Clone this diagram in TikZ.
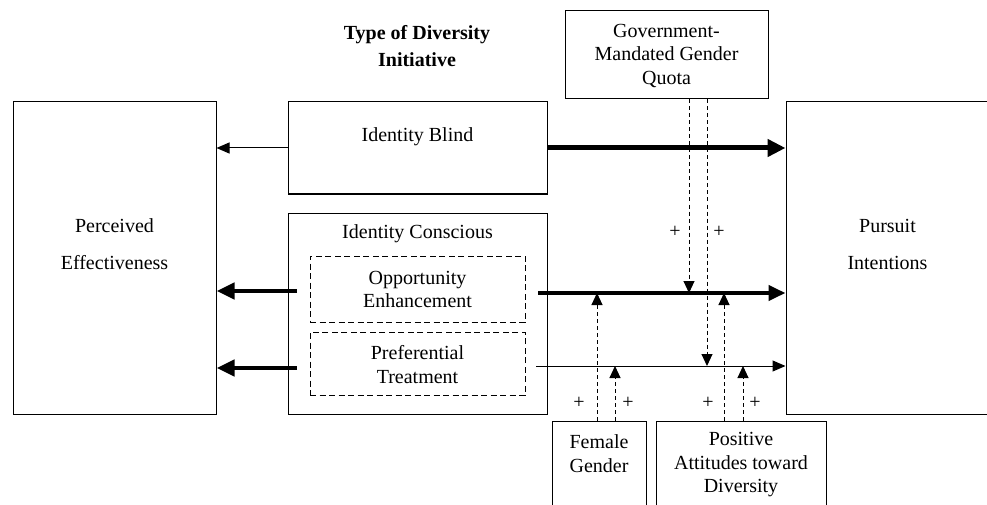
\documentclass[tikz,border=0pt]{standalone}
\usepackage{fontspec}
\setmainfont{Liberation Serif}
\usetikzlibrary{arrows.meta}
\begin{document}
\begin{tikzpicture}[x=1pt,y=-1pt,
 box/.style={draw, line width=1pt, rectangle, inner sep=0pt},
 dbox/.style={draw, line width=1pt, rectangle, inner sep=0pt, dash pattern=on 6pt off 3.5pt},
 txt/.style={font=\fontsize{20}{23.5}\selectfont, align=center, inner sep=0pt},
 bigtxt/.style={font=\fontsize{20}{37}\selectfont, align=center, inner sep=0pt},
 ttl/.style={font=\fontsize{20}{27}\selectfont\bfseries, align=center, inner sep=0pt},
 plus/.style={font=\fontsize{20}{24}\selectfont, inner sep=0pt},
 thinarr/.style={line width=1pt, -{Triangle[length=13pt,width=11pt]}},
 thickarr/.style={line width=4.5pt, -{Triangle[length=18pt,width=16pt]}},
 modarr/.style={line width=1pt, dash pattern=on 4pt off 3pt, -{Triangle[length=12pt,width=11pt]}},
]
\useasboundingbox (0,0) rectangle (987,505);
\clip (0,0) rectangle (987,505);

% title
\node[ttl] (title) at (417,46.5) {Type of Diversity\\Initiative};

% main boxes
\node[box, minimum width=203pt, minimum height=312pt] (pe) at (114.5,258) {};
\node[bigtxt] (petxt) at (114.5,244) {Perceived\\Effectiveness};

\node[box, minimum width=203pt, minimum height=312pt] (pi) at (887.5,258) {};
\node[bigtxt] (pitxt) at (887.5,244) {Pursuit\\Intentions};

\node[box, minimum width=259pt, minimum height=92pt] (ib) at (417.5,148) {};
\node[txt] (ibtxt) at (417.5,137) {Identity Blind};

\node[box, minimum width=259pt, minimum height=201pt] (ic) at (417.5,313.5) {};
\node[txt] (ictxt) at (417.5,234) {Identity Conscious};

\node[dbox, minimum width=215pt, minimum height=66pt] (oe) at (417.5,289) {};
\node[txt] (oetxt) at (417.5,289.5) {Opportunity\\Enhancement};

\node[dbox, minimum width=215pt, minimum height=63pt] (pt) at (417.5,363.5) {};
\node[txt] (pttxt) at (417.5,364.5) {Preferential\\Treatment};

\node[box, minimum width=203pt, minimum height=88pt] (gov) at (666.5,55) {};
\node[txt] (govtxt) at (666.5,56) {Government-\\Mandated Gender\\Quota};

\node[box, minimum width=94pt, minimum height=120pt] (fg) at (599,481) {};
\node[txt] (fgtxt) at (599,453.5) {Female\\Gender};

\node[box, minimum width=170pt, minimum height=120pt] (pa) at (741,481) {};
\node[txt] (patxt) at (741,465) {Positive\\Attitudes toward\\Diversity};

% connector start coordinates
\coordinate (oeL) at (297,291);
\coordinate (ptL) at (297,368);
\coordinate (oeR) at (538,293);
\coordinate (ptR) at (536,366);

% arrows to Perceived Effectiveness
\draw[thinarr] (ib.west) -- (ib.west -| pe.east);
\draw[thickarr] (oeL) -- (oeL -| pe.east);
\draw[thickarr] (ptL) -- (ptL -| pe.east);

% arrows to Pursuit Intentions
\draw[line width=5pt, -{Triangle[length=18pt,width=17pt]}] (ib.east) -- (ib.east -| pi.west);
\draw[line width=4pt, -{Triangle[length=17pt,width=15pt]}] (oeR) -- (oeR -| pi.west);
\draw[thinarr] (ptR) -- (ptR -| pi.west);

% moderators
\draw[modarr] ([xshift=22.5pt]gov.south) -- ([xshift=22.5pt]gov.south |- oeR);
\draw[modarr] ([xshift=40.5pt]gov.south) -- ([xshift=40.5pt]gov.south |- ptR);
\draw[modarr] ([xshift=-2pt]fg.north) -- ([xshift=-2pt]fg.north |- oeR);
\draw[modarr] ([xshift=16pt]fg.north) -- ([xshift=16pt]fg.north |- ptR);
\draw[modarr] ([xshift=-17pt]pa.north) -- ([xshift=-17pt]pa.north |- oeR);
\draw[modarr] ([xshift=2pt]pa.north) -- ([xshift=2pt]pa.north |- ptR);

% plus signs
\node[plus] (p1) at (675,232) {+};
\node[plus] (p2) at (719,232) {+};
\node[plus] (p3) at (579,403) {+};
\node[plus] (p4) at (628,403) {+};
\node[plus] (p5) at (708,403) {+};
\node[plus] (p6) at (755,403) {+};
\end{tikzpicture}
\end{document}
